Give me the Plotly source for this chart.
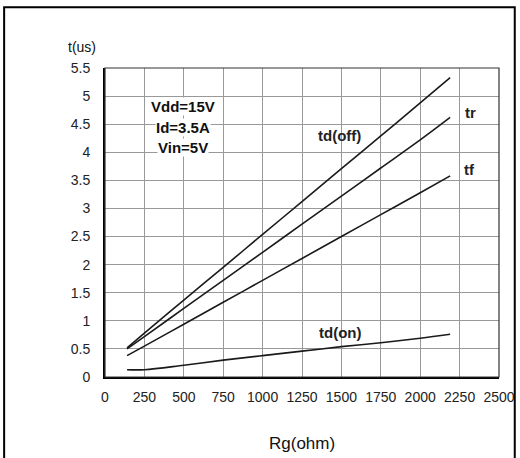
import plotly.graph_objects as go

rg = [140, 250, 500, 750, 1000, 1250, 1500, 1750, 2000, 2190]
td_off = [0.52, 0.78, 1.37, 1.95, 2.54, 3.12, 3.71, 4.29, 4.88, 5.33]
t_r = [0.50, 0.72, 1.22, 1.72, 2.22, 2.72, 3.22, 3.72, 4.22, 4.62]
t_f = [0.38, 0.55, 0.94, 1.33, 1.72, 2.11, 2.50, 2.89, 3.28, 3.58]
td_on = [0.13, 0.13, 0.21, 0.30, 0.38, 0.46, 0.54, 0.61, 0.69, 0.76]

x_ticks = [0, 250, 500, 750, 1000, 1250, 1500, 1750, 2000, 2250, 2500]
y_ticks = [0, 0.5, 1, 1.5, 2, 2.5, 3, 3.5, 4, 4.5, 5, 5.5]
y_tick_text = ["0", "0.5", "1", "1.5", "2", "2.5", "3", "3.5", "4", "4.5", "5", "5.5"]

fig = go.Figure()
for ys in [td_off, t_r, t_f, td_on]:
    fig.add_trace(go.Scatter(x=rg, y=ys, mode="lines", line=dict(color="#1a1a1a", width=1.6),
                             line_shape="spline", showlegend=False, hoverinfo="skip"))

FAM = "Liberation Sans, Arial, sans-serif"
tickfont = dict(family=FAM, size=14, color="#222222")

cond = [("<b>Vdd=15V</b>", 4.81), ("<b>Id=3.5A</b>", 4.44), ("<b>Vin=5V</b>", 4.09)]
for t, y in cond:
    fig.add_annotation(x=495, y=y, text=t, showarrow=False,
                       font=dict(family=FAM, size=15, color="#111111"), bgcolor="white", borderpad=0)

labels = [("td(off)", 1491, 4.30), ("tr", 2316, 4.70), ("tf", 2310, 3.70), ("td(on)", 1491, 0.80)]
for t, x, y in labels:
    fig.add_annotation(x=x, y=y, text="<b>" + t + "</b>", showarrow=False,
                       font=dict(family=FAM, size=15, color="#222222"))

fig.add_annotation(xref="paper", yref="paper", x=-0.058, y=1.068, text="t(us)", showarrow=False,
                   font=dict(family=FAM, size=14, color="#111111"), xanchor="center", yanchor="middle")
fig.add_annotation(xref="paper", yref="paper", x=0.5, y=-0.214, text="Rg(ohm)", showarrow=False,
                   font=dict(family=FAM, size=17, color="#111111"), xanchor="center", yanchor="middle")

# plot frame top/right
fig.add_shape(type="rect", xref="paper", yref="paper", x0=0, x1=1, y0=0, y1=1,
              line=dict(color="#333333", width=1.2), layer="above")
# outer border
fig.add_shape(type="rect", xref="paper", yref="paper", x0=-0.256, x1=1.04, y0=-0.4, y1=1.197,
              line=dict(color="black", width=2), layer="above")

fig.update_xaxes(range=[0, 2500], tickvals=x_ticks, showgrid=True, gridcolor="#999999", gridwidth=1,
                 showline=True, linecolor="black", linewidth=2, ticks="", tickfont=tickfont,
                 zeroline=False, ticklabelstandoff=6, automargin=False)
fig.update_yaxes(range=[0, 5.5], tickvals=y_ticks, ticktext=y_tick_text, showgrid=True,
                 gridcolor="#999999", gridwidth=1, showline=True, linecolor="black", linewidth=2,
                 ticks="", tickfont=tickfont, zeroline=False, ticklabelstandoff=10, automargin=False)

fig.update_layout(width=520, height=458, margin=dict(l=105, r=21, t=68, b=81, autoexpand=False),
                  plot_bgcolor="white", paper_bgcolor="white")
fig.write_html("out.html", config={"displayModeBar": False},
               post_script="document.body.style.margin='0px';")
